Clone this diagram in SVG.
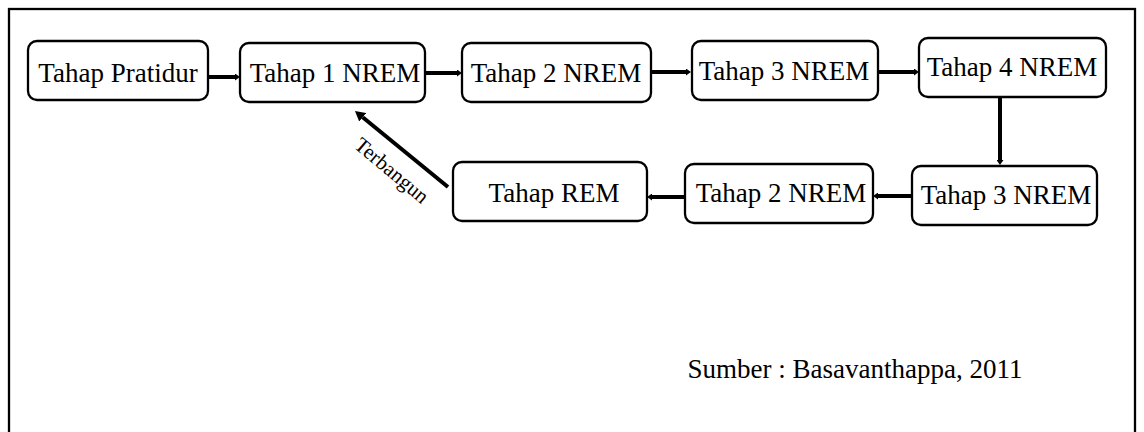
<svg xmlns="http://www.w3.org/2000/svg" width="1144" height="432" viewBox="0 0 1144 432">
<defs>
<marker id="ah" viewBox="0 0 5 7" refX="0" refY="3.5" markerWidth="5" markerHeight="7" markerUnits="userSpaceOnUse" orient="auto">
<path d="M0,0 L5,3.5 L0,7 Z" fill="#000"/>
</marker>
<marker id="ahb" viewBox="0 0 10 11" refX="0" refY="5.5" markerWidth="10" markerHeight="11" markerUnits="userSpaceOnUse" orient="auto">
<path d="M0,0 L10,5.5 L0,11 Z" fill="#000"/>
</marker>
</defs>
<style>
.box{fill:#fff;stroke:#000;stroke-width:2.3}
.t{font-family:"Liberation Serif","Times New Roman",serif;font-size:27px;fill:#000;text-anchor:middle}
.c{stroke:#000;stroke-width:4;fill:none;marker-end:url(#ah)}
.cb{stroke:#000;stroke-width:4;fill:none;marker-end:url(#ahb)}
</style>
<rect x="0" y="0" width="1144" height="432" fill="#fff"/>
<rect x="9" y="9" width="1126" height="440" fill="none" stroke="#000" stroke-width="2.3"/>
<g id="n1"><rect class="box" x="28" y="41" width="180" height="59" rx="9"/><text class="t" x="118" y="82">Tahap Pratidur</text></g>
<g id="n2"><rect class="box" x="240" y="43" width="185" height="59" rx="9"/><text class="t" x="335" y="82">Tahap 1 NREM</text></g>
<g id="n3"><rect class="box" x="462" y="43" width="189" height="59" rx="9"/><text class="t" x="556" y="82">Tahap 2 NREM</text></g>
<g id="n4"><rect class="box" x="692" y="41" width="186" height="59" rx="9"/><text class="t" x="784" y="80">Tahap 3 NREM</text></g>
<g id="n5"><rect class="box" x="919" y="38" width="187" height="59" rx="9"/><text class="t" x="1012" y="76">Tahap 4 NREM</text></g>
<g id="n6"><rect class="box" x="912" y="166" width="185" height="59" rx="9"/><text class="t" x="1006" y="204">Tahap 3 NREM</text></g>
<g id="n7"><rect class="box" x="685" y="164" width="188" height="59" rx="9"/><text class="t" x="781" y="202">Tahap 2 NREM</text></g>
<g id="n8"><rect class="box" x="453" y="162" width="194" height="59" rx="9"/><text class="t" x="554" y="202">Tahap REM</text></g>
<g id="connectors">
<line class="c" x1="209" y1="77" x2="235" y2="77"/>
<line class="c" x1="426" y1="73" x2="457" y2="73"/>
<line class="c" x1="652" y1="72" x2="686" y2="72"/>
<line class="c" x1="879" y1="72" x2="914" y2="72"/>
<line class="c" x1="1000" y1="98" x2="1000" y2="160"/>
<line class="c" x1="911" y1="196" x2="878" y2="196"/>
<line class="c" x1="684" y1="197" x2="652" y2="197"/>
<line class="cb" x1="448" y1="187" x2="362.7" y2="117.3"/>
<text style="font-family:'Liberation Serif','Times New Roman',serif;font-size:21px;fill:#000" transform="translate(353,147) rotate(40)">Terbangun</text>
</g>
<text class="t" x="855" y="378">Sumber : Basavanthappa, 2011</text>
</svg>
